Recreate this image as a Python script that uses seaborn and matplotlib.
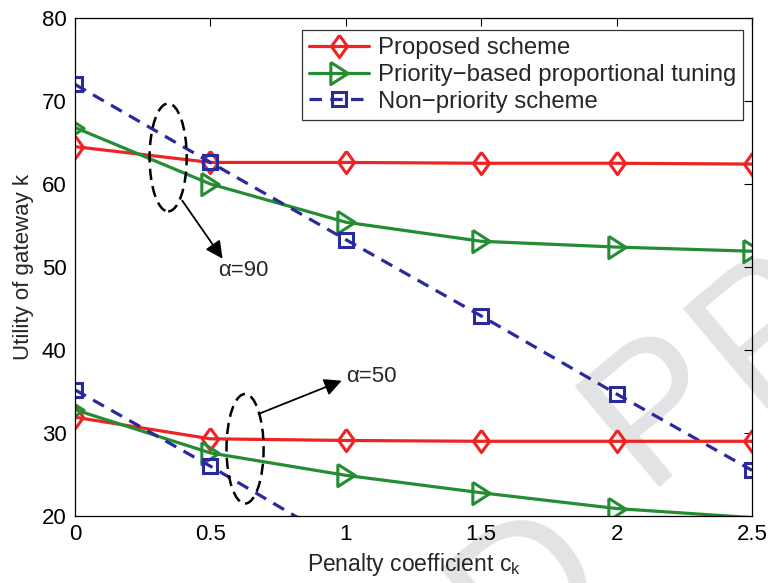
import matplotlib
matplotlib.use("Agg")
import matplotlib.pyplot as plt
from matplotlib.patches import Ellipse
import seaborn as sns
import pandas as pd

# Penalty coefficient values (x axis)
penalty = [0.0, 0.5, 1.0, 1.5, 2.0, 2.5]

# Utility of gateway k, alpha = 90
proposed_a90 = [64.5, 62.6, 62.6, 62.5, 62.5, 62.4]
priority_a90 = [66.8, 60.0, 55.4, 53.1, 52.4, 51.9]
nonprio_a90 = [72.0, 62.6, 53.3, 44.1, 34.7, 25.5]

# Utility of gateway k, alpha = 50
proposed_a50 = [31.9, 29.3, 29.1, 29.0, 29.0, 29.0]
priority_a50 = [32.8, 27.6, 24.9, 22.8, 20.9, 19.8]
nonprio_a50 = [35.2, 26.0, 16.4, 6.8, -2.8, -12.4]

series_names = ["Proposed scheme", "Priority\u2212based proportional tuning", "Non\u2212priority scheme"]
x_ticks = [0, 0.5, 1, 1.5, 2, 2.5]
x_tick_labels = ["0", "0.5", "1", "1.5", "2", "2.5"]
y_ticks = [20, 30, 40, 50, 60, 70, 80]

sns.set_theme(style="white")
plt.rcParams["font.family"] = ["Liberation Sans", "DejaVu Sans"]
plt.rcParams["mathtext.fontset"] = "custom"
plt.rcParams["mathtext.rm"] = "Liberation Sans"
plt.rcParams["mathtext.it"] = "Liberation Sans"

FS = 16
RED = "#ee2424"
GREEN = "#248c32"
BLUE = "#2a2a9c"

# tall diamond and narrow right-pointing triangle markers
diamond = [(0, 1), (0.72, 0), (0, -1), (-0.72, 0), (0, 1)]
triangle = [(-0.78, 1), (0.78, 0), (-0.78, -1), (-0.78, 1)]

fig = plt.figure(figsize=(7.68, 5.83), dpi=100)
fig.patch.set_facecolor("white")
ax = fig.add_axes([75 / 768, 67 / 583, 677 / 768, 498 / 583])
ax.set_facecolor("none")

# light diagonal watermark letters behind the axes
for ch, (px, py) in zip(["D", "P", "P"], [(530, 588), (660, 408), (768, 330)]):
    fig.text(px / 768, 1 - py / 583, ch, fontsize=138, color="#e2e3e5",
             rotation=40, rotation_mode="anchor", ha="center", va="center",
             zorder=-5, family="Liberation Sans")

styles = [
    dict(color=RED, marker=diamond, markersize=16, linestyle="-"),
    dict(color=GREEN, marker=triangle, markersize=16, linestyle="-"),
    dict(color=BLUE, marker="s", markersize=9.5, linestyle=(0, (3.9, 2.6))),
]

groups = [
    (proposed_a90, priority_a90, nonprio_a90),
    (proposed_a50, priority_a50, nonprio_a50),
]

for gi, group in enumerate(groups):
    for si, (vals, st) in enumerate(zip(group, styles)):
        df = pd.DataFrame({"c": penalty, "u": vals})
        visible = [i for i, v in enumerate(vals) if 20 <= v <= 80]
        sns.lineplot(data=df, x="c", y="u", ax=ax, sort=False,
                     color=st["color"], linestyle=st["linestyle"],
                     marker=st["marker"], markersize=st["markersize"],
                     markerfacecolor="none", markeredgecolor=st["color"],
                     markeredgewidth=2.2, linewidth=2.3,
                     markevery=visible,
                     label=series_names[si] if gi == 0 else None,
                     legend=False)

# dashed ellipses marking each group
for cx, cy, w, h in [(0.344, 63.2, 0.137, 13.0), (0.628, 28.1, 0.137, 13.2)]:
    ax.add_patch(Ellipse((cx, cy), w, h, fill=False, edgecolor="black",
                         linewidth=1.8, linestyle=(0, (4.5, 2.5)), zorder=5))

arrow = dict(arrowstyle="-|>", color="black", lw=1.3, mutation_scale=26,
             shrinkA=0, shrinkB=0)
ax.annotate("", xy=(0.545, 51.0), xytext=(0.396, 58.0), arrowprops=arrow, zorder=6)
ax.text(0.53, 49.6, "\u03b1=90", fontsize=FS, ha="left", va="center")
ax.annotate("", xy=(0.985, 36.3), xytext=(0.678, 32.3), arrowprops=arrow, zorder=6)
ax.text(1.0, 36.8, "\u03b1=50", fontsize=FS, ha="left", va="center")

ax.set_xlim(0, 2.5)
ax.set_ylim(20, 80)
ax.set_xticks(x_ticks)
ax.set_xticklabels(x_tick_labels)
ax.set_yticks(y_ticks)
ax.tick_params(direction="in", length=6, width=0.8, top=True, right=True,
               labelsize=FS, pad=6, colors="black")
for sp in ax.spines.values():
    sp.set_color("black")
    sp.set_linewidth(0.9)
ax.set_xlabel("Penalty coefficient c$_\\mathregular{k}$", fontsize=FS + 0.5, labelpad=4)
ax.set_ylabel("Utility of gateway k", fontsize=FS, labelpad=6)

handles, labels = ax.get_legend_handles_labels()
leg = ax.legend(handles[:3], labels[:3], loc="upper right",
                bbox_to_anchor=(0.9867, 0.976), fontsize=17.2, frameon=True,
                fancybox=False, shadow=False, handlelength=2.5,
                handletextpad=0.35, borderpad=0.3, labelspacing=0.2,
                borderaxespad=0)
leg.get_frame().set_edgecolor("black")
leg.get_frame().set_linewidth(0.9)

fig.savefig("out.png", dpi=100, facecolor="white")
